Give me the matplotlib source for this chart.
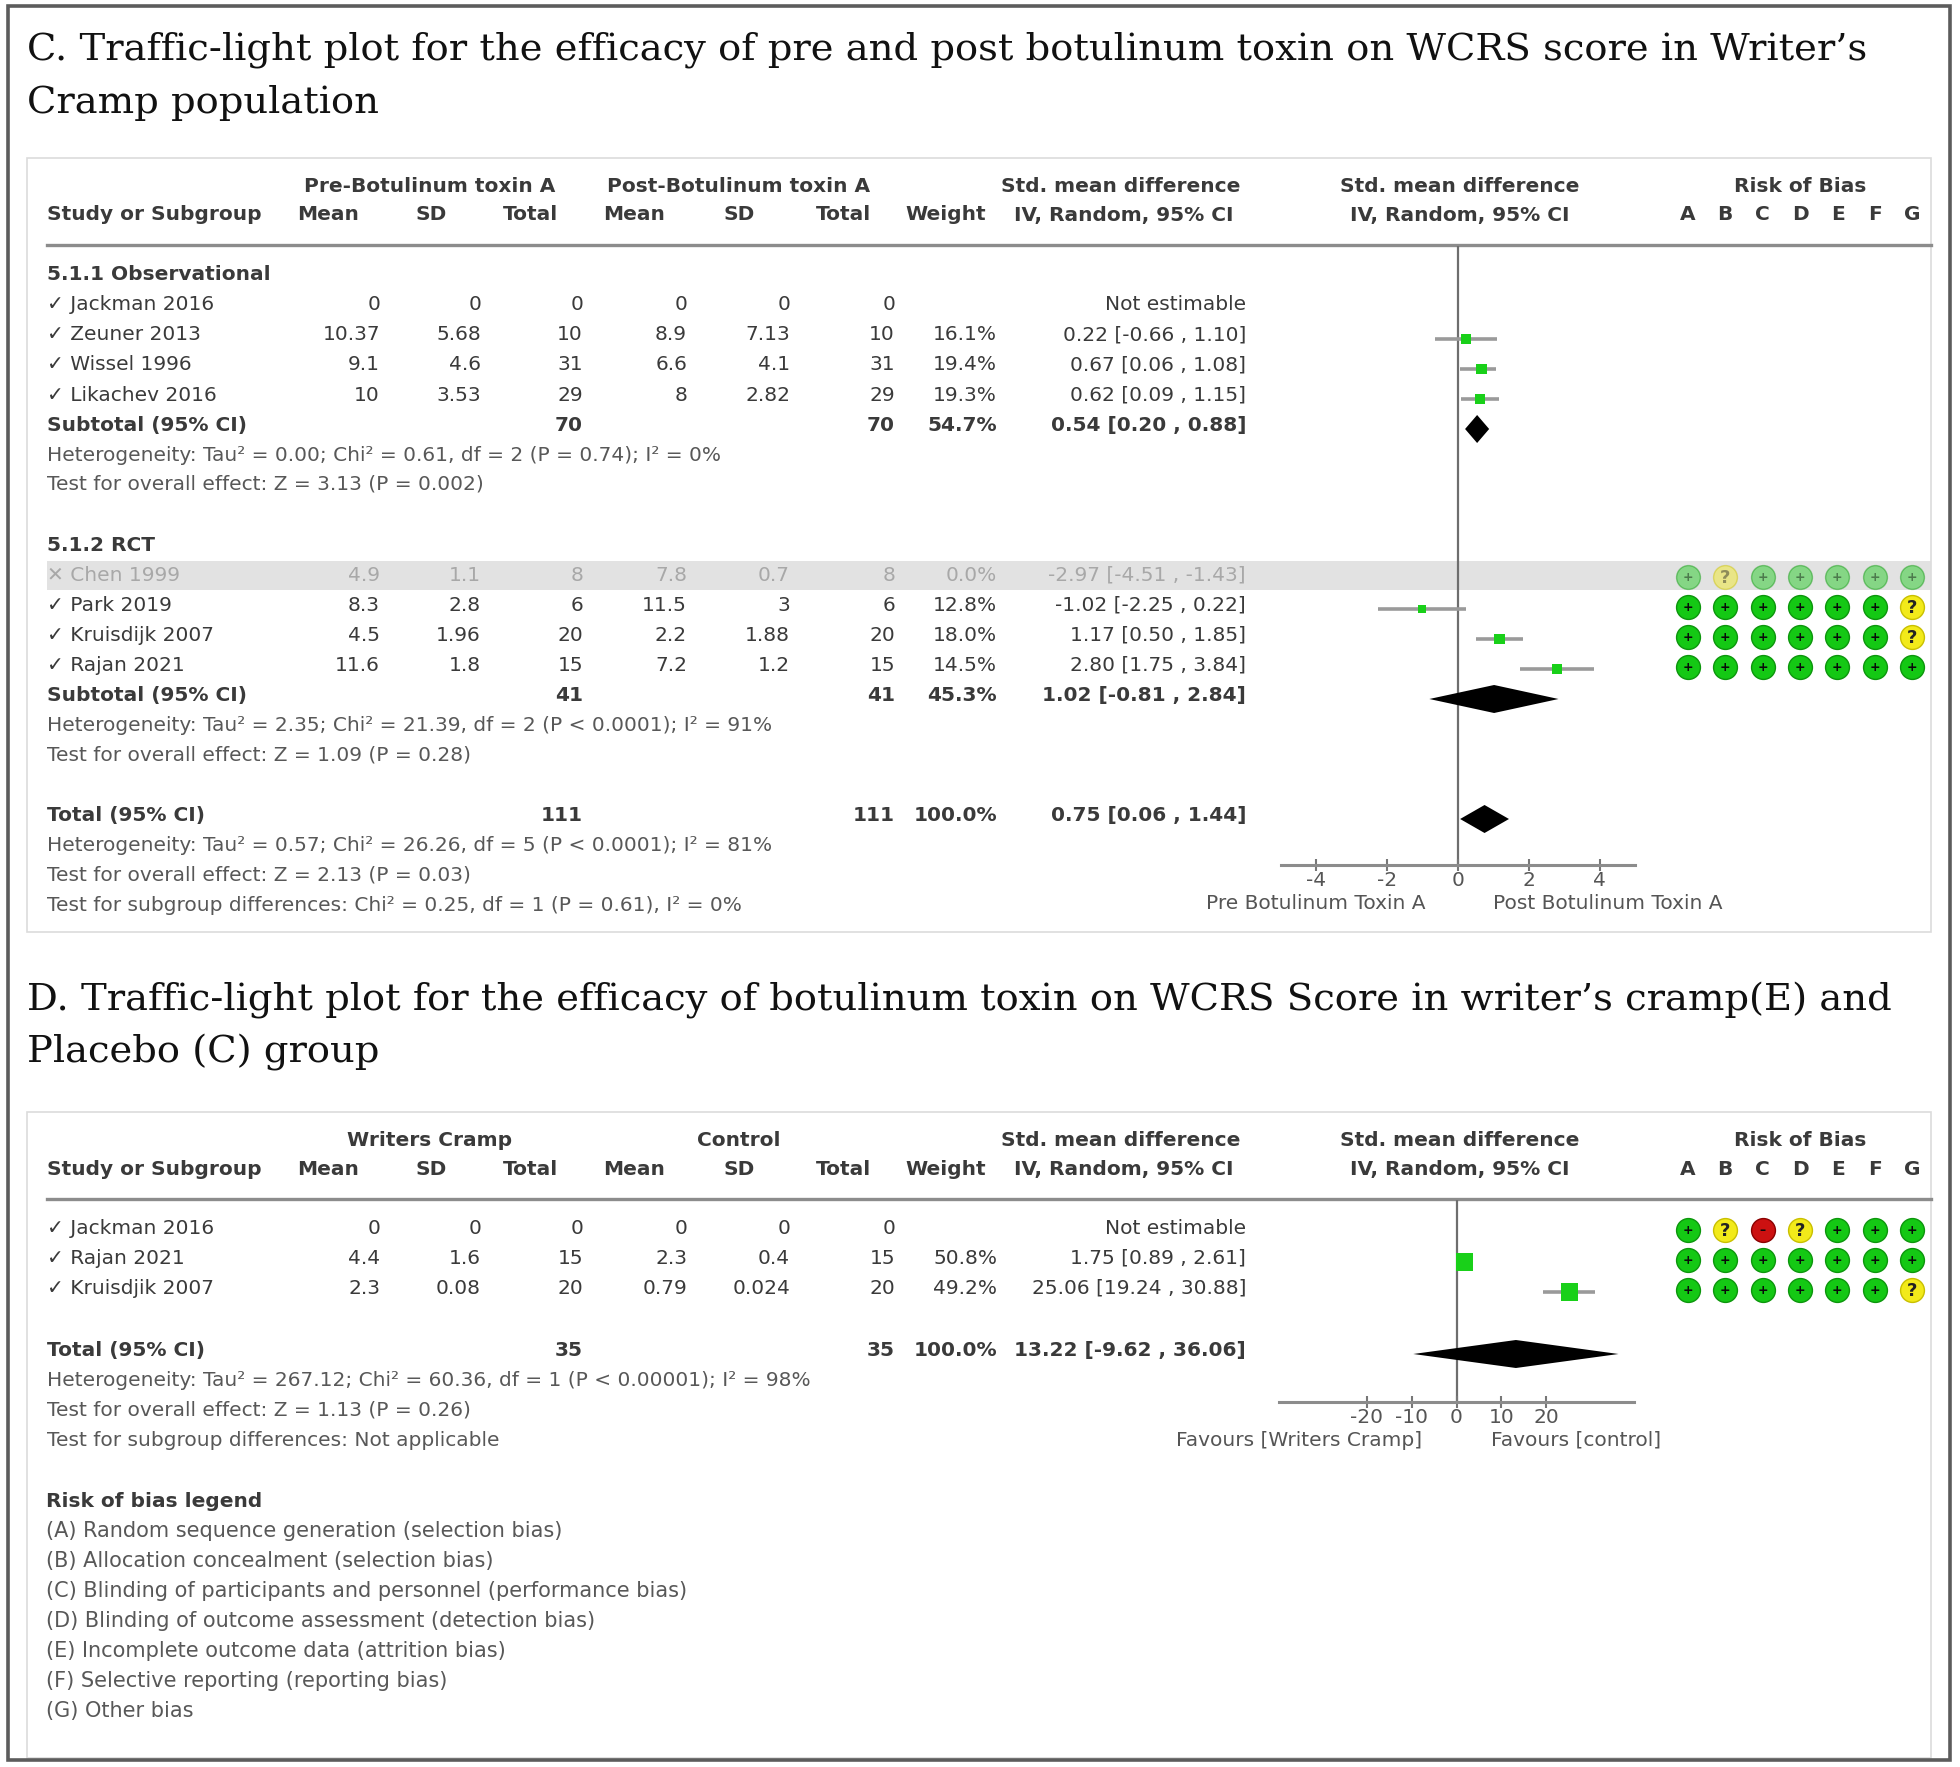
import matplotlib

matplotlib.use("Agg")

import matplotlib.pyplot as plt
import numpy as np
from matplotlib.patches import Rectangle

W, H = 1960, 1767
SANS = ["DejaVu Sans"]
SERIF = ["DejaVu Serif", "Liberation Serif"]
plt.rcParams["font.family"] = SANS
plt.rcParams["axes.unicode_minus"] = False

# ---------------- panel C data ----------------
title_c = [
    "C. Traffic-light plot for the efficacy of pre and post botulinum toxin on WCRS score in Writer\u2019s",
    "Cramp population",
]
obs_names = ["Jackman 2016", "Zeuner 2013", "Wissel 1996", "Likachev 2016"]
obs_pre_mean = ["0", "10.37", "9.1", "10"]
obs_pre_sd = ["0", "5.68", "4.6", "3.53"]
obs_pre_n = [0, 10, 31, 29]
obs_post_mean = ["0", "8.9", "6.6", "8"]
obs_post_sd = ["0", "7.13", "4.1", "2.82"]
obs_post_n = [0, 10, 31, 29]
obs_weight = [None, 16.1, 19.4, 19.3]
obs_smd = [None, 0.22, 0.67, 0.62]
obs_lo = [None, -0.66, 0.06, 0.09]
obs_hi = [None, 1.10, 1.08, 1.15]

rct_names = ["Chen 1999", "Park 2019", "Kruisdijk 2007", "Rajan 2021"]
rct_excluded = [True, False, False, False]
rct_pre_mean = ["4.9", "8.3", "4.5", "11.6"]
rct_pre_sd = ["1.1", "2.8", "1.96", "1.8"]
rct_pre_n = [8, 6, 20, 15]
rct_post_mean = ["7.8", "11.5", "2.2", "7.2"]
rct_post_sd = ["0.7", "3", "1.88", "1.2"]
rct_post_n = [8, 6, 20, 15]
rct_weight = [0.0, 12.8, 18.0, 14.5]
rct_smd = [-2.97, -1.02, 1.17, 2.80]
rct_lo = [-4.51, -2.25, 0.50, 1.75]
rct_hi = [-1.43, 0.22, 1.85, 3.84]
rct_rob = ["+?+++++", "++++++?", "++++++?", "+++++++"]

# label, n pre, n post, weight, smd, lo, hi
c_subtotals = [
    ("Subtotal (95% CI)", 70, 70, 54.7, 0.54, 0.20, 0.88),
    ("Subtotal (95% CI)", 41, 41, 45.3, 1.02, -0.81, 2.84),
    ("Total (95% CI)", 111, 111, 100.0, 0.75, 0.06, 1.44),
]
c_notes = [
    ["Heterogeneity: Tau\u00b2 = 0.00; Chi\u00b2 = 0.61, df = 2 (P = 0.74); I\u00b2 = 0%",
     "Test for overall effect: Z = 3.13 (P = 0.002)"],
    ["Heterogeneity: Tau\u00b2 = 2.35; Chi\u00b2 = 21.39, df = 2 (P < 0.0001); I\u00b2 = 91%",
     "Test for overall effect: Z = 1.09 (P = 0.28)"],
    ["Heterogeneity: Tau\u00b2 = 0.57; Chi\u00b2 = 26.26, df = 5 (P < 0.0001); I\u00b2 = 81%",
     "Test for overall effect: Z = 2.13 (P = 0.03)",
     "Test for subgroup differences: Chi\u00b2 = 0.25, df = 1 (P = 0.61), I\u00b2 = 0%"],
]
c_groups = ["5.1.1 Observational", "5.1.2 RCT"]
c_arms = ["Pre-Botulinum toxin A", "Post-Botulinum toxin A"]
c_xlim = (-5, 5)
c_ticks = [-4, -2, 0, 2, 4]
c_favours = ["Pre Botulinum Toxin A", "Post Botulinum Toxin A"]

# ---------------- panel D data ----------------
title_d = [
    "D. Traffic-light plot for the efficacy of botulinum toxin on WCRS Score in writer\u2019s cramp(E) and",
    "Placebo (C) group",
]
d_names = ["Jackman 2016", "Rajan 2021", "Kruisdjik 2007"]
d_wc_mean = ["0", "4.4", "2.3"]
d_wc_sd = ["0", "1.6", "0.08"]
d_wc_n = [0, 15, 20]
d_ctl_mean = ["0", "2.3", "0.79"]
d_ctl_sd = ["0", "0.4", "0.024"]
d_ctl_n = [0, 15, 20]
d_weight = [None, 50.8, 49.2]
d_smd = [None, 1.75, 25.06]
d_lo = [None, 0.89, 19.24]
d_hi = [None, 2.61, 30.88]
d_rob = ["+?-?+++", "+++++++", "++++++?"]
d_total = ("Total (95% CI)", 35, 35, 100.0, 13.22, -9.62, 36.06)
d_notes = [
    "Heterogeneity: Tau\u00b2 = 267.12; Chi\u00b2 = 60.36, df = 1 (P < 0.00001); I\u00b2 = 98%",
    "Test for overall effect: Z = 1.13 (P = 0.26)",
    "Test for subgroup differences: Not applicable",
]
d_arms = ["Writers Cramp", "Control"]
d_xlim = (-39.5, 39.5)
d_ticks = [-20, -10, 0, 10, 20]
d_favours = ["Favours [Writers Cramp]", "Favours [control]"]

rob_domains = list("ABCDEFG")
rob_legend = [
    "(A) Random sequence generation (selection bias)",
    "(B) Allocation concealment (selection bias)",
    "(C) Blinding of participants and personnel (performance bias)",
    "(D) Blinding of outcome assessment (detection bias)",
    "(E) Incomplete outcome data (attrition bias)",
    "(F) Selective reporting (reporting bias)",
    "(G) Other bias",
]

# ---------------- layout / style ----------------
TXT = "#3a3a3a"
NOTE = "#585858"
FADE = "#a8a8a8"
FS = 14.5
TITLE_FS = 27.7
COL_X = [380, 481, 583, 687, 790, 895, 997, 1246]
HEAD_X = [(328, "center"), (431, "center"), (558, "right"),
          (634, "center"), (739, "center"), (871, "right"), (946, "center")]
ROB_FACE = {"+": "#14c814", "?": "#f2ea1a", "-": "#cc1111"}
ROB_EDGE = {"+": "#0c960c", "?": "#c9c000", "-": "#8a0000"}
MARK_DY = 4

fig = plt.figure(figsize=(W / 100, H / 100), dpi=100)
base = fig.add_axes([0, 0, 1, 1])
base.set_xlim(0, W)
base.set_ylim(H, 0)
base.axis("off")


def txt(x, y, s, ha="left", color=TXT, size=FS, weight="normal", family=None):
    base.text(x, y, s, ha=ha, va="center", color=color, fontsize=size,
              fontweight=weight, family=family or SANS)


def pixel_axes(x0, y0, x1, y1):
    ax = fig.add_axes([x0 / W, 1 - y1 / H, (x1 - x0) / W, (y1 - y0) / H])
    ax.set_facecolor("none")
    return ax


def fmt_ci(est, lo, hi):
    return f"{est:.2f} [{lo:.2f} , {hi:.2f}]"


def header(y_top, arms):
    txt(430, y_top, arms[0], ha="center", weight="bold")
    txt(739, y_top, arms[1], ha="center", weight="bold")
    txt(1240, y_top, "Std. mean difference", ha="right", weight="bold")
    txt(1460, y_top, "Std. mean difference", ha="center", weight="bold")
    txt(1800, y_top, "Risk of Bias", ha="center", weight="bold")
    y2 = y_top + 29
    txt(47, y2, "Study or Subgroup", weight="bold")
    for (x, ha), lab in zip(HEAD_X, ["Mean", "SD", "Total", "Mean", "SD", "Total", "Weight"]):
        txt(x, y2, lab, ha=ha, weight="bold")
    txt(1233, y2, "IV, Random, 95% CI", ha="right", weight="bold")
    txt(1460, y2, "IV, Random, 95% CI", ha="center", weight="bold")
    for i, d in enumerate(rob_domains):
        txt(1687.5 + 37.5 * i, y2, d, ha="center", weight="bold")
    base.plot([47, 1931], [y_top + 59, y_top + 59], color="#8c8c8c", lw=2.4)


def study_row(y, name, cells, weight, est, lo, hi, excluded=False):
    color = FADE if excluded else TXT
    mark = "\u2715 " if excluded else "\u2713 "
    txt(47, y, mark + name, color=color)
    for x, c in zip(COL_X[:6], cells):
        txt(x, y, str(c), ha="right", color=color)
    if est is None:
        txt(COL_X[7], y, "Not estimable", ha="right", color=color)
        return
    txt(COL_X[6], y, f"{weight:.1f}%", ha="right", color=color)
    txt(COL_X[7], y, fmt_ci(est, lo, hi), ha="right", color=color)


def total_row(y, row):
    label, n1, n2, w, est, lo, hi = row
    txt(47, y, label, weight="bold")
    txt(COL_X[2], y, str(n1), ha="right", weight="bold")
    txt(COL_X[5], y, str(n2), ha="right", weight="bold")
    txt(COL_X[6], y, f"{w:.1f}%", ha="right", weight="bold")
    txt(COL_X[7], y, fmt_ci(est, lo, hi), ha="right", weight="bold")


def forest_axes(x0, x1, y0, y1, xlim, ticks):
    ax = pixel_axes(x0, y0, x1, y1)
    ax.set_xlim(*xlim)
    ax.set_ylim(y1, y0)
    for side in ("left", "right", "top"):
        ax.spines[side].set_visible(False)
    ax.spines["bottom"].set_color("#8c8c8c")
    ax.spines["bottom"].set_linewidth(2.2)
    ax.set_yticks([])
    ax.set_xticks(ticks)
    ax.set_xticklabels([str(t) for t in ticks])
    ax.tick_params(axis="x", direction="inout", length=8, width=1.5, color="#777777",
                   labelsize=14.5, labelcolor="#555555", pad=0)
    ax.axvline(0, color="#6e6e6e", lw=1.6, zorder=1)
    return ax


def draw_studies(ax, ys, est, lo, hi, weights, skip=None):
    for i, (y, e, l, h, w) in enumerate(zip(ys, est, lo, hi, weights)):
        if e is None or (skip and skip[i]):
            continue
        ax.hlines(y, l, h, color="#9a9a9a", lw=2.6, zorder=2)
        side = 2.45 * np.sqrt(w)
        ax.scatter([e], [y], marker="s", s=(side * 0.72) ** 2, color="#19d019",
                   edgecolors="none", zorder=3)


def draw_diamond(ax, y, est, lo, hi, half=14):
    ax.fill([lo, est, hi, est], [y, y - half, y, y + half], color="black", zorder=3, lw=0)


def draw_rob(ax, ys, judgements, faded=None):
    for r, (y, row) in enumerate(zip(ys, judgements)):
        alpha = 0.45 if faded and faded[r] else 1.0
        for i, j in enumerate(row):
            ax.scatter([i], [y], s=295, color=ROB_FACE[j], edgecolors=ROB_EDGE[j],
                       linewidths=1.0, alpha=alpha, zorder=3, clip_on=False)
            if j == "?":
                ax.text(i, y + 1, "?", ha="center", va="center", fontsize=13,
                        fontweight="bold", color="#222222", alpha=alpha, zorder=4)
            else:
                ax.text(i, y, "+" if j == "+" else "\u2013", ha="center", va="center",
                        fontsize=9, fontweight="bold", color="#0a0a0a", alpha=alpha, zorder=4)


def rob_axes(y0, y1):
    ax = pixel_axes(1669, y0, 1931, y1)
    ax.set_xlim(-0.5, 6.5)
    ax.set_ylim(y1, y0)
    ax.axis("off")
    return ax


# ---------------- frames ----------------
base.add_patch(Rectangle((8, 6), 1942, 1754, fill=False, ec="#5c5c5c", lw=2.6, zorder=5))
base.add_patch(Rectangle((27, 158), 1904, 774, fill=False, ec="#dcdcdc", lw=1.2))
base.add_patch(Rectangle((27, 1112), 1904, 646, fill=False, ec="#dcdcdc", lw=1.2))

# ---------------- panel C ----------------
for i, line in enumerate(title_c):
    txt(27, 50 + 53 * i, line, color="#111111", size=TITLE_FS, family=SERIF)

header(186, c_arms)

txt(47, 275, c_groups[0], weight="bold")
obs_y = [305, 335, 365, 395]
for k, y in enumerate(obs_y):
    cells = [obs_pre_mean[k], obs_pre_sd[k], obs_pre_n[k],
             obs_post_mean[k], obs_post_sd[k], obs_post_n[k]]
    study_row(y, obs_names[k], cells, obs_weight[k], obs_smd[k], obs_lo[k], obs_hi[k])
total_row(425, c_subtotals[0])
txt(47, 455, c_notes[0][0], color=NOTE)
txt(47, 484, c_notes[0][1], color=NOTE)

txt(47, 545, c_groups[1], weight="bold")
rct_y = [575, 605, 635, 665]
base.add_patch(Rectangle((47, 561), 1884, 29, color="#e2e2e2", lw=0, zorder=0))
for k, y in enumerate(rct_y):
    cells = [rct_pre_mean[k], rct_pre_sd[k], rct_pre_n[k],
             rct_post_mean[k], rct_post_sd[k], rct_post_n[k]]
    study_row(y, rct_names[k], cells, rct_weight[k], rct_smd[k], rct_lo[k], rct_hi[k],
              excluded=rct_excluded[k])
total_row(695, c_subtotals[1])
txt(47, 725, c_notes[1][0], color=NOTE)
txt(47, 755, c_notes[1][1], color=NOTE)

total_row(815, c_subtotals[2])
for i, line in enumerate(c_notes[2]):
    txt(47, 845 + 30 * i, line, color=NOTE)

fc = forest_axes(1281, 1635, 246, 865, c_xlim, c_ticks)
draw_studies(fc, [y + MARK_DY for y in obs_y], obs_smd, obs_lo, obs_hi, obs_weight)
draw_studies(fc, [y + MARK_DY for y in rct_y], rct_smd, rct_lo, rct_hi, rct_weight,
             skip=rct_excluded)
for y, row in zip([425, 695, 815], c_subtotals):
    draw_diamond(fc, y + MARK_DY, row[4], row[5], row[6])
txt(1425, 903, c_favours[0], ha="right", color="#555555")
txt(1493, 903, c_favours[1], ha="left", color="#555555")

rc = rob_axes(550, 690)
draw_rob(rc, [y + 2 for y in rct_y], rct_rob, faded=rct_excluded)

# ---------------- panel D ----------------
for i, line in enumerate(title_d):
    txt(27, 1000 + 52 * i, line, color="#111111", size=TITLE_FS, family=SERIF)

header(1140, d_arms)
d_y = [1228, 1258, 1288]
for k, y in enumerate(d_y):
    cells = [d_wc_mean[k], d_wc_sd[k], d_wc_n[k], d_ctl_mean[k], d_ctl_sd[k], d_ctl_n[k]]
    study_row(y, d_names[k], cells, d_weight[k], d_smd[k], d_lo[k], d_hi[k])
total_row(1350, d_total)
for i, line in enumerate(d_notes):
    txt(47, 1380 + 30 * i, line, color=NOTE)

fd = forest_axes(1279, 1634, 1200, 1402, d_xlim, d_ticks)
draw_studies(fd, [y + MARK_DY for y in d_y], d_smd, d_lo, d_hi, d_weight)
draw_diamond(fd, 1350 + MARK_DY, d_total[4], d_total[5], d_total[6])
txt(1422, 1440, d_favours[0], ha="right", color="#555555")
txt(1491, 1440, d_favours[1], ha="left", color="#555555")

rd = rob_axes(1210, 1310)
draw_rob(rd, [y + 2 for y in d_y], d_rob)

# ---------------- legend ----------------
txt(46, 1501, "Risk of bias legend", weight="bold")
for i, line in enumerate(rob_legend):
    txt(46, 1531 + 30 * i, line, color=NOTE, size=15)

fig.savefig("out.png", dpi=100, facecolor="white")
plt.close(fig)
